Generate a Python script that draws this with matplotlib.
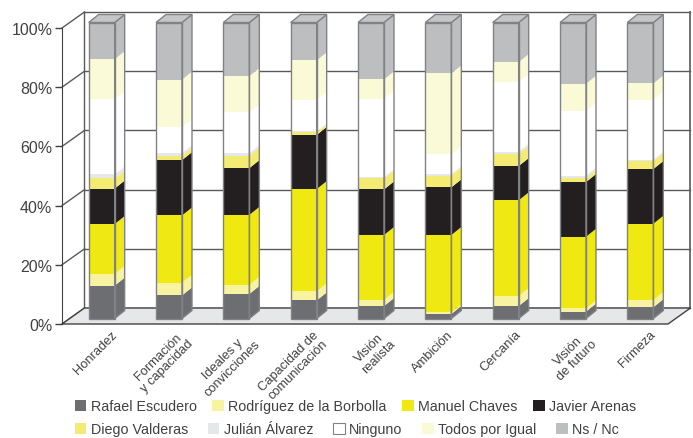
import matplotlib.pyplot as plt
from matplotlib.patches import Polygon, Rectangle
import numpy as np

plt.rcParams['font.family'] = ['Liberation Sans', 'DejaVu Sans']

categories = ['Honradez', 'Formación\ny capacidad', 'Ideales y\nconvicciones',
              'Capacidad de\ncomunicación', 'Visión\nrealista', 'Ambición',
              'Cercanía', 'Visión\nde futuro', 'Firmeza']

series_names = ['Rafael Escudero', 'Rodríguez de la Borbolla', 'Manuel Chaves',
                'Javier Arenas', 'Diego Valderas', 'Julián Álvarez', 'Ninguno',
                'Todos por Igual', 'Ns / Nc']

rafael_escudero = [11.1, 7.8, 8.3, 6.1, 4.2, 1.5, 4.2, 2.3, 3.8]
rodriguez_borbolla = [4.0, 4.3, 3.1, 3.1, 2.1, 0.6, 3.4, 1.1, 2.5]
manuel_chaves = [16.8, 22.7, 23.6, 34.5, 21.9, 26.1, 32.3, 24.2, 25.7]
javier_arenas = [12.0, 18.7, 15.8, 18.3, 15.4, 16.1, 11.6, 18.5, 18.5]
diego_valderas = [3.4, 1.5, 4.2, 0.9, 3.7, 4.0, 4.1, 1.3, 2.6]
julian_alvarez = [1.4, 0.9, 0.9, 0.3, 0.5, 0.5, 0.8, 0.9, 0.6]
ninguno = [25.5, 8.7, 13.7, 10.6, 26.5, 6.7, 23.5, 21.9, 20.2]
todos_por_igual = [13.4, 16.1, 12.3, 13.4, 6.5, 27.3, 6.7, 9.1, 5.5]
ns_nc = [12.4, 19.3, 18.1, 12.8, 19.2, 17.2, 13.4, 20.7, 20.6]

colors = ['#6d6e71', '#f7f3a0', '#f0e811', '#231f20', '#f4ec72',
          '#e6e7e8', '#ffffff', '#fafad6', '#bcbec0']

data = np.array([rafael_escudero, rodriguez_borbolla, manuel_chaves, javier_arenas,
                 diego_valderas, julian_alvarez, ninguno, todos_por_igual, ns_nc])

W, H = 693, 439
fig = plt.figure(figsize=(W / 100, H / 100), dpi=100)
ax = fig.add_axes([62 / W, 114 / H, 606 / W, 296 / H])
ax.set_xlim(-0.5, 8.5)
ax.set_ylim(0, 100)

# pixel -> data conversion for the fake 3d depth
sx = 9 / 606
sy = 100 / 296
wx, wy = 22.5 * sx, 16 * sy      # wall depth
bx, by = 6 * sx, 5.5 * sy        # bar offset from the front plane
dx, dy = 10 * sx, 8 * sy         # bar depth
bw = 26 * sx                     # bar width

grid_c = '#58595b'
edge_c = '#808285'
text_c = '#414042'

# back wall + left wall grid
for v in range(0, 101, 20):
    ax.plot([-0.5 + wx, 8.5 + wx], [v + wy, v + wy], color=grid_c, lw=1, clip_on=False, zorder=1)
    ax.plot([-0.5, -0.5 + wx], [v, v + wy], color=grid_c, lw=1, clip_on=False, zorder=1)
ax.plot([-0.5 + wx] * 2, [wy, 100 + wy], color=grid_c, lw=1, clip_on=False, zorder=1)
ax.plot([8.5 + wx] * 2, [wy, 100 + wy], color=grid_c, lw=1.2, clip_on=False, zorder=1)

# floor
floor = Polygon([(-0.5, 0), (8.5, 0), (8.5 + wx, wy), (-0.5 + wx, wy)], closed=True,
                facecolor='#e6e7e8', edgecolor='#414042', lw=1, clip_on=False, zorder=2)
ax.add_patch(floor)

x = np.arange(len(categories))
bottoms = np.zeros(len(categories))
for k in range(len(series_names)):
    vals = data[k]
    ax.bar(x + bx, vals, bottom=bottoms + by, width=bw, color=colors[k],
           edgecolor='none', clip_on=False, zorder=3)
    for i in range(len(categories)):
        xr = x[i] + bx + bw / 2
        y0 = bottoms[i] + by
        y1 = y0 + vals[i]
        side = Polygon([(xr, y0), (xr + dx, y0 + dy), (xr + dx, y1 + dy), (xr, y1)],
                       closed=True, facecolor=colors[k], edgecolor='none',
                       clip_on=False, zorder=3)
        ax.add_patch(side)
    bottoms += vals

for i in range(len(categories)):
    xl = x[i] + bx - bw / 2
    xr = x[i] + bx + bw / 2
    top = bottoms[i] + by
    ax.add_patch(Rectangle((xl, by), bw, bottoms[i], fill=False, edgecolor=edge_c,
                           lw=1, clip_on=False, zorder=4))
    ax.add_patch(Polygon([(xr, by), (xr + dx, by + dy), (xr + dx, top + dy), (xr, top)],
                         closed=True, fill=False, edgecolor=edge_c, lw=1,
                         clip_on=False, zorder=4))
    ax.add_patch(Polygon([(xl, top), (xl + dx, top + dy), (xr + dx, top + dy), (xr, top)],
                         closed=True, facecolor='#c4c6c8', edgecolor=edge_c, lw=1,
                         clip_on=False, zorder=4))

for s in ['top', 'right', 'bottom']:
    ax.spines[s].set_visible(False)
ax.spines['left'].set_color('#414042')
ax.spines['left'].set_zorder(5)

ax.set_yticks(range(0, 101, 20), [f'{v}%' for v in range(0, 101, 20)])
ax.tick_params(axis='y', direction='out', length=5, width=1, color='#414042',
               labelsize=11.5, labelcolor=text_c, pad=2)

ax.set_xticks(x + 0.22, categories)
ax.tick_params(axis='x', length=0, pad=3, labelsize=9.3, labelcolor=text_c)
for lab in ax.get_xticklabels():
    lab.set_rotation(45)
    lab.set_ha('right')
    lab.set_va('top')
    lab.set_rotation_mode('anchor')
    lab.set_multialignment('center')
    lab.set_linespacing(1.1)

handles = [Rectangle((0, 0), 1, 1, facecolor=c, edgecolor='#808285' if c == '#ffffff' else 'none',
                     lw=0.8) for c in colors]
leg_kw = dict(frameon=False, loc='center left', fontsize=10.3, handlelength=0.8,
              handleheight=0.8, handletextpad=0.3, borderpad=0,
              borderaxespad=0, labelcolor=text_c)
fig.legend(handles[:4], series_names[:4], ncol=4, columnspacing=1.1,
           bbox_to_anchor=(75 / W, 31.5 / H), **leg_kw)
fig.legend(handles[4:], series_names[4:], ncol=5, columnspacing=1.4,
           bbox_to_anchor=(75 / W, 9 / H), **leg_kw)

fig.savefig('out.png', dpi=100)
